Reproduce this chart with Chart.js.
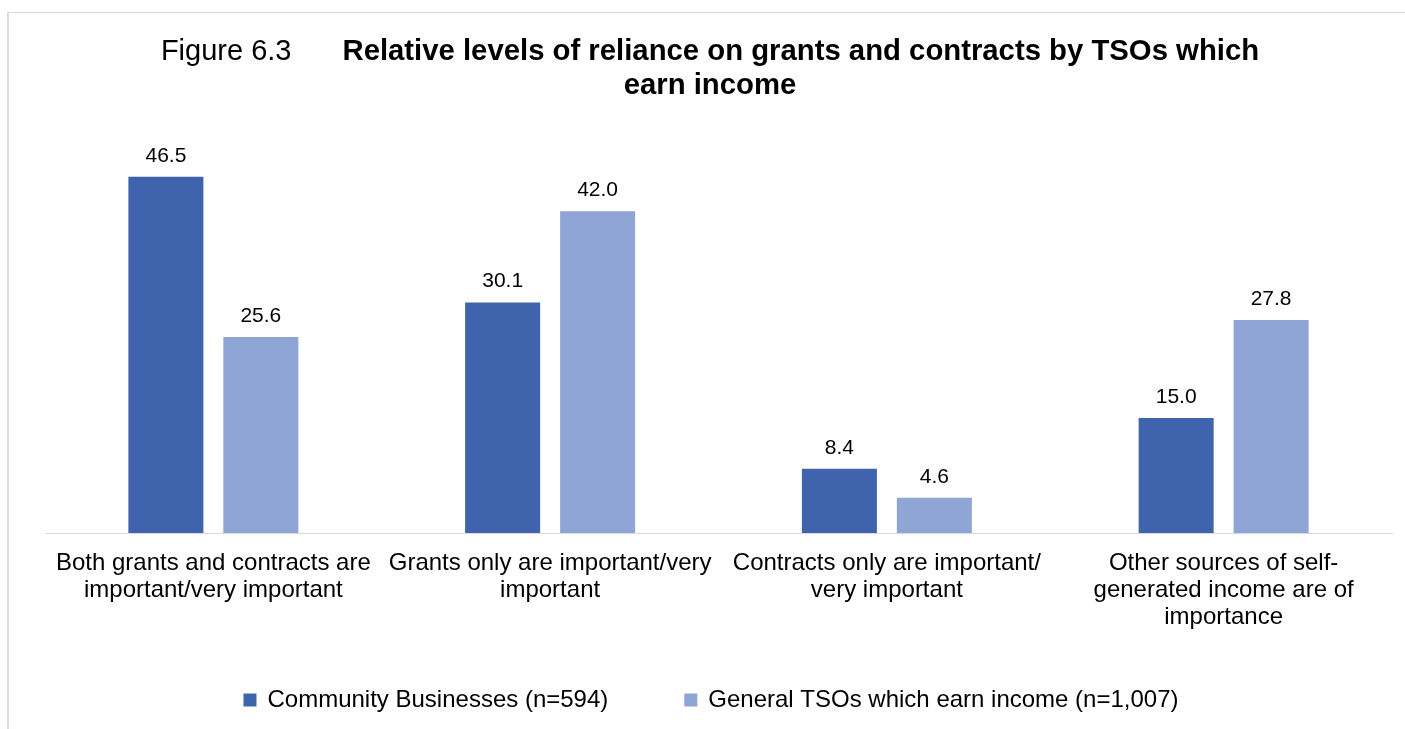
<!DOCTYPE html>
<html>
<head>
<meta charset="utf-8">
<script src="https://cdn.jsdelivr.net/npm/chart.js@4"></script>
<style>
    body { margin: 0; background: #fff; }
    #wrap { position: relative; width: 1405px; height: 729px; overflow: hidden; }
    #frame {
        position: absolute; left: 7px; top: 12px; width: 1500px; height: 800px;
        border-left: 2px solid #d9d9d9; border-top: 1px solid #d9d9d9;
    }
    #chart { position: absolute; left: 0; top: 0; }
</style>
</head>
<body>
<div id="wrap">
    <div id="frame"></div>
    <canvas id="chart" width="1405" height="729"></canvas>
</div>
<script>
// Chart data
const categories = [
    ['Both grants and contracts are', 'important/very important'],
    ['Grants only are important/very', 'important'],
    ['Contracts only are important/', 'very important'],
    ['Other sources of self-', 'generated income are of', 'importance']
];
const communityBusinesses = [46.5, 30.1, 8.4, 15.0];
const generalTSOs = [25.6, 42.0, 4.6, 27.8];
const seriesNames = ['Community Businesses (n=594)', 'General TSOs which earn income (n=1,007)'];
const titlePrefix = 'Figure 6.3';
const titleLines = ['Relative levels of reliance on grants and contracts by TSOs which', 'earn income'];

const FONT = '"Liberation Sans", Arial, sans-serif';
const DARK = '#3f64ad';
const LIGHT = '#8fa5d5';

// Value labels above bars
const valueLabels = {
    id: 'valueLabels',
    afterDatasetsDraw(chart) {
        const ctx = chart.ctx;
        ctx.save();
        ctx.font = '21px ' + FONT;
        ctx.fillStyle = '#000';
        ctx.textAlign = 'center';
        ctx.textBaseline = 'alphabetic';
        chart.data.datasets.forEach((ds, i) => {
            chart.getDatasetMeta(i).data.forEach((bar, j) => {
                ctx.fillText(ds.data[j].toFixed(1), bar.x, bar.y - 15);
            });
        });
        ctx.restore();
    }
};

// Title: regular prefix + bold text, centred
const titleDraw = {
    id: 'titleDraw',
    afterDraw(chart) {
        const ctx = chart.ctx;
        const cx = 710;
        ctx.save();
        ctx.fillStyle = '#000';
        ctx.textBaseline = 'alphabetic';
        ctx.font = '29px ' + FONT;
        const wPre = ctx.measureText(titlePrefix).width;
        const gap = 51;
        ctx.font = 'bold 29.3px ' + FONT;
        const wMain = ctx.measureText(titleLines[0]).width;
        const x0 = cx - (wPre + gap + wMain) / 2;
        ctx.textAlign = 'left';
        ctx.font = '29px ' + FONT;
        ctx.fillText(titlePrefix, x0, 59.5);
        ctx.font = 'bold 29.3px ' + FONT;
        ctx.fillText(titleLines[0], x0 + wPre + gap, 59.5);
        ctx.textAlign = 'center';
        ctx.fillText(titleLines[1], cx, 93.5);
        ctx.restore();
    }
};

// Legend at the bottom
const legendDraw = {
    id: 'legendDraw',
    afterDraw(chart) {
        const ctx = chart.ctx;
        const box = 13, boxGap = 11, itemGap = 76, cy = 700, cx = 711;
        ctx.save();
        ctx.font = '24px ' + FONT;
        const items = chart.data.datasets.map(ds => ({
            label: ds.label, color: ds.backgroundColor, w: ctx.measureText(ds.label).width
        }));
        const total = items.reduce((s, it) => s + box + boxGap + it.w, 0) + itemGap * (items.length - 1);
        let x = cx - total / 2;
        ctx.textBaseline = 'middle';
        ctx.textAlign = 'left';
        items.forEach(it => {
            ctx.fillStyle = it.color;
            ctx.fillRect(x, cy - box / 2, box, box);
            x += box + boxGap;
            ctx.fillStyle = '#000';
            ctx.fillText(it.label, x, cy);
            x += it.w + itemGap;
        });
        ctx.restore();
    }
};

new Chart(document.getElementById('chart'), {
    type: 'bar',
    data: {
        labels: categories,
        datasets: [{
            label: seriesNames[0],
            data: communityBusinesses,
            backgroundColor: DARK
        }, {
            label: seriesNames[1],
            data: generalTSOs,
            backgroundColor: LIGHT
        }]
    },
    options: {
        responsive: false,
        animation: false,
        layout: {
            padding: { left: 45, right: 13, top: 150, bottom: 81 }
        },
        datasets: {
            bar: {
                categoryPercentage: 0.564,
                barPercentage: 0.79
            }
        },
        plugins: {
            legend: { display: false },
            title: { display: false },
            tooltip: { enabled: false }
        },
        scales: {
            x: {
                grid: { display: false, drawTicks: false, tickLength: 0 },
                border: { display: true, color: '#d9d9d9', width: 1 },
                ticks: {
                    color: '#000',
                    padding: 17,
                    maxRotation: 0,
                    autoSkip: false,
                    font: { family: FONT, size: 24, lineHeight: 27 / 24 }
                }
            },
            y: {
                display: false,
                min: 0,
                max: 50
            }
        }
    },
    plugins: [valueLabels, titleDraw, legendDraw]
});
</script>
</body>
</html>
